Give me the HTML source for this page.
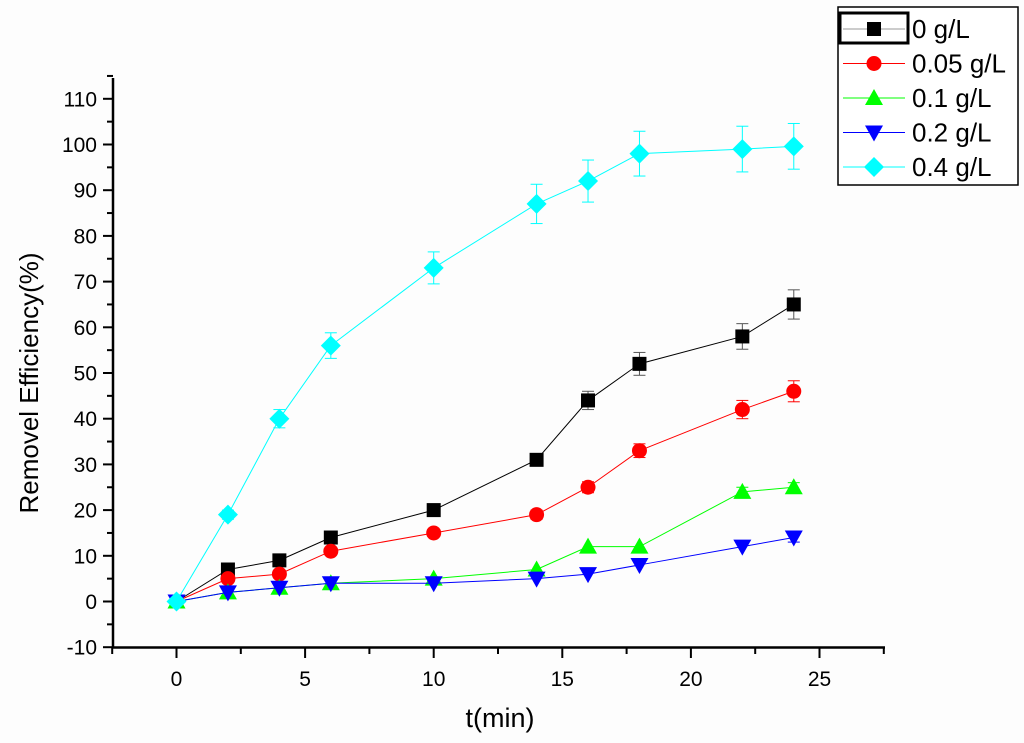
<!DOCTYPE html>
<html><head><meta charset="utf-8"><style>
html,body{margin:0;padding:0;background:#fdfdfd;}
svg{display:block;font-family:"Liberation Sans",Arial,sans-serif;}
</style></head><body>
<svg id="chart" width="1024" height="743" viewBox="0 0 1024 743">
<g id="axes"></g><g id="series"></g><g id="legend"></g>
</svg>
<script>
const times=[0,2,4,6,10,14,16,18,22,24];
const s0=[0,7,9,14,20,31,44,52,58,65];
const s0err=[0,0.8,0.8,1,1,1.2,2,2.5,2.8,3.2];
const s005=[0,5,6,11,15,19,25,33,42,46];
const s005err=[0,0.5,0.5,0.6,0.8,1,1.2,1.5,2,2.3];
const s01=[0,2,3,4,5,7,12,12,24,25];
const s01err=[0,0.3,0.3,0.4,0.4,0.5,0.6,0.6,1,1];
const s02=[0,2,3,4,4,5,6,8,12,14];
const s02err=[0,0.3,0.3,0.3,0.3,0.4,0.5,0.5,0.8,1];
const s04=[0,19,40,56,73,87,92,98,99,99.6];
const s04err=[0,1,2,2.8,3.5,4.3,4.6,4.9,5,5];
const labels=["0 g/L","0.05 g/L","0.1 g/L","0.2 g/L","0.4 g/L"];
const xTicks=[0,5,10,15,20,25];
const yTicks=[-10,0,10,20,30,40,50,60,70,80,90,100,110];

const NS="http://www.w3.org/2000/svg";
const X=v=>176.5+v*25.72;
const Y=v=>601.5-v*4.57;
function mk(tag,attrs,parent){const e=document.createElementNS(NS,tag);for(const k in attrs)e.setAttribute(k,attrs[k]);parent.appendChild(e);return e;}
const axes=document.getElementById('axes');
const ser=document.getElementById('series');
const leg=document.getElementById('legend');

let yl=mk('line',{x1:113,y1:78,x2:113,y2:648,stroke:'#000','stroke-width':2.5},axes);


let xl=mk('line',{x1:112,y1:647.5,x2:885,y2:647.5,stroke:'#000','stroke-width':2.5},axes);


for(let v=-10;v<=115;v+=5){const y=Y(v);const maj=(v%10===0);
 mk('line',{x1:maj?103:107,y1:y,x2:113,y2:y,stroke:'#000','stroke-width':2},axes);}
yTicks.forEach(v=>{const t=mk('text',{x:97,y:Y(v)+7.5,'text-anchor':'end','font-size':21},axes);t.textContent=v;
 
 });
for(let v=-2.5;v<=27.5;v+=2.5){const x=X(v);const maj=(v%5===0);
 mk('line',{x1:x,y1:647,x2:x,y2:maj?658:654,stroke:'#000','stroke-width':2},axes);}
xTicks.forEach(v=>{const t=mk('text',{x:X(v),y:686,'text-anchor':'middle','font-size':21},axes);t.textContent=v;
 
 });
let xt=mk('text',{x:500,y:727,'text-anchor':'middle','font-size':27},axes);xt.textContent='t(min)';


let yt=mk('text',{x:0,y:0,'text-anchor':'middle','font-size':26,transform:'translate(38,383) rotate(-90)'},axes);yt.textContent='Removel Efficiency(%)';



function marker(shape,x,y,c,g){
 if(shape==='sq')mk('rect',{x:x-7,y:y-7,width:14,height:14,fill:c},g);
 else if(shape==='ci')mk('circle',{cx:x,cy:y,r:7.5,fill:c},g);
 else if(shape==='up')mk('polygon',{points:`${x},${y-9} ${x-9},${y+7} ${x+9},${y+7}`,fill:c},g);
 else if(shape==='dn')mk('polygon',{points:`${x},${y+9} ${x-9},${y-7} ${x+9},${y-7}`,fill:c},g);
 else mk('polygon',{points:`${x},${y-10} ${x+10},${y} ${x},${y+10} ${x-10},${y}`,fill:c},g);
}
const defs=[[s0,s0err,'#000','sq','series-0gL'],[s005,s005err,'#f00','ci','series-005gL'],[s01,s01err,'#0f0','up','series-01gL'],[s02,s02err,'#00f','dn','series-02gL'],[s04,s04err,'#0ff','di','series-04gL']];
defs.forEach(([vals,errs,c,sh,name])=>{
 const g=mk('g',{},ser);
 
 
 mk('polyline',{points:times.map((t,i)=>X(t)+','+Y(vals[i])).join(' '),fill:'none',stroke:c,'stroke-width':1},g);
 times.forEach((t,i)=>{const x=X(t),e=errs[i];if(e>0.9){
  const ec=c==='#000'?'#555':c;
  mk('line',{x1:x,y1:Y(vals[i]+e),x2:x,y2:Y(vals[i]-e),stroke:ec,'stroke-width':1},g);
  mk('line',{x1:x-6,y1:Y(vals[i]+e),x2:x+6,y2:Y(vals[i]+e),stroke:ec,'stroke-width':1},g);
  mk('line',{x1:x-6,y1:Y(vals[i]-e),x2:x+6,y2:Y(vals[i]-e),stroke:ec,'stroke-width':1},g);}});
 times.forEach((t,i)=>marker(sh,X(t),Y(vals[i]),c,g));
});
let lb=mk('rect',{x:838,y:7,width:180,height:178,fill:'#fff',stroke:'#000','stroke-width':1.5},leg);


defs.forEach(([v,e,c,sh],i)=>{
 const y=29+i*34.5;const g=mk('g',{},leg);
 
 
 mk('line',{x1:843,y1:y,x2:905,y2:y,stroke:c==='#000'?'#999':c,'stroke-width':1},g);
 marker(sh,874,y,c,g);
 const t=mk('text',{x:912,y:y+9,'font-size':26},g);t.textContent=labels[i];
});
mk('rect',{x:840,y:13,width:68,height:30,fill:'none',stroke:'#000','stroke-width':3},leg);
</script>
</body></html>
